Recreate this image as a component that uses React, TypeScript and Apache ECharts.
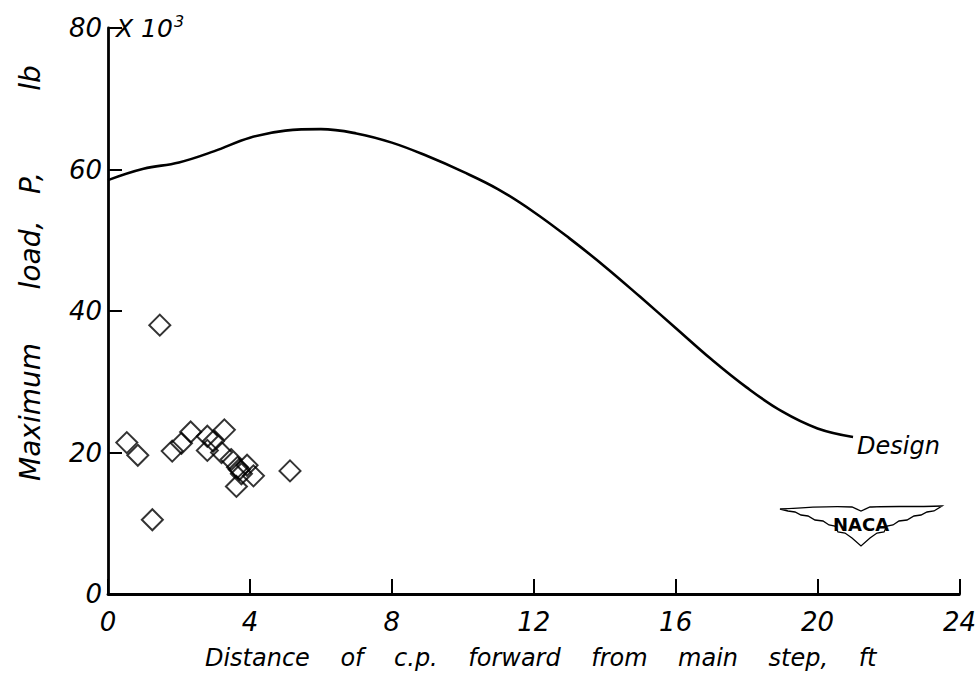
import React, { useEffect, useRef } from "react";
import * as echarts from "echarts";

const xTicks = [0, 4, 8, 12, 16, 20, 24];
const yTicks = [0, 20, 40, 60, 80];

const designX = [0, 1, 2, 3, 4, 5, 6, 7, 8, 9, 10, 11, 12, 13, 14, 15, 16, 17, 18, 19, 20, 21];
const designY = [58.5, 60.1, 61.0, 62.6, 64.5, 65.5, 65.7, 65.1, 63.8, 61.9, 59.7, 57.2, 54.0, 50.3, 46.3, 42.0, 37.6, 33.2, 29.2, 25.8, 23.4, 22.2];

const testX = [0.53, 0.84, 1.25, 1.46, 1.81, 2.07, 2.33, 2.8, 2.97, 2.8, 3.28, 3.2, 3.47, 3.65, 3.92, 3.76, 4.1, 3.62, 3.7, 5.13];
const testY = [21.4, 19.6, 10.5, 38.0, 20.2, 21.3, 22.9, 22.3, 21.6, 20.3, 23.2, 20.0, 19.0, 17.9, 18.2, 17.0, 16.7, 15.2, 17.6, 17.4];

const yTitleWords = ["Maximum", "load,", "P,", "lb"];
const xTitleWords = ["Distance", "of", "c.p.", "forward", "from", "main", "step,", "ft"];

const FONT = "DejaVu Sans";
const WING =
  "M0,3 C30,1 60,0 72,1 L81,5 L90,1 C102,0 132,1 162,0 L154,5 L147,6 L141,9 L134,10 L127,14 L119,15 L113,19 L107,20 L104,26 L97,27 L90,32 L81,40 L72,32 L65,27 L58,26 L55,20 L49,19 L43,15 L35,14 L28,10 L21,9 L15,6 L8,5 Z";

echarts.graphic.registerShape("nacaWing", echarts.graphic.extendPath(WING, {}));

export default function App() {
  const ref = useRef<HTMLDivElement>(null);
  useEffect(() => {
    if (!ref.current) return;
    const chart = echarts.init(ref.current, null, { renderer: "svg" });
    const yCenters = [412, 255, 183, 78];
    chart.setOption({
      animation: false,
      backgroundColor: "#fff",
      grid: { left: 108, right: 17, top: 28, bottom: 83, containLabel: false },
      xAxis: {
        type: "value",
        min: xTicks[0],
        max: xTicks[xTicks.length - 1],
        interval: 4,
        name: xTitleWords.join("\u00a0\u00a0\u00a0\u00a0"),
        nameLocation: "middle",
        nameGap: 52,
        nameTextStyle: { fontFamily: FONT, fontStyle: "italic", fontSize: 24, color: "#000", padding: [0, 0, 0, 14] },
        axisLine: { show: true, lineStyle: { color: "#000", width: 2.8 } },
        axisTick: { show: true, inside: true, length: 15, lineStyle: { color: "#000", width: 2 } },
        axisLabel: { fontFamily: FONT, fontStyle: "italic", fontSize: 26, color: "#000", margin: 15 },
        splitLine: { show: false },
      },
      yAxis: {
        type: "value",
        min: yTicks[0],
        max: yTicks[yTicks.length - 1],
        interval: 20,
        axisLine: { show: true, lineStyle: { color: "#000", width: 2.8 } },
        axisTick: { show: true, inside: true, length: 14, lineStyle: { color: "#000", width: 2 } },
        axisLabel: { fontFamily: FONT, fontStyle: "italic", fontSize: 26, color: "#000", margin: 6 },
        splitLine: { show: false },
      },
      graphic: [
        {
          type: "text",
          x: 116,
          y: 28,
          style: {
            text: "{a|X 10}{b|3}",
            verticalAlign: "middle",
            rich: {
              a: { fontFamily: FONT, fontStyle: "italic", fontSize: 25, fill: "#000" },
              b: { fontFamily: FONT, fontStyle: "italic", fontSize: 16, fill: "#000", verticalAlign: "top", padding: [0, 0, 14, 1] },
            },
          },
        },
        ...yTitleWords.map((w, i) => ({
          type: "text",
          x: 30,
          y: yCenters[i],
          rotation: Math.PI / 2,
          style: {
            text: w,
            fontFamily: FONT,
            fontStyle: "italic",
            fontSize: 28,
            fill: "#000",
            align: "center",
            verticalAlign: "middle",
          },
        })),
        {
          type: "nacaWing",
          x: 780,
          y: 506,
          style: { fill: "#fff", stroke: "#000", lineWidth: 1.3 },
        },
        {
          type: "text",
          x: 861,
          y: 524,
          style: {
            text: "NACA",
            fontFamily: FONT,
            fontWeight: "bold",
            fontSize: 18,
            fill: "#000",
            align: "center",
            verticalAlign: "middle",
          },
        },
      ],
      series: [
        {
          type: "line",
          name: "Design",
          data: designX.map((x, i) => [x, designY[i]]),
          smooth: 0.4,
          symbol: "none",
          lineStyle: { color: "#000", width: 2.6 },
          endLabel: {
            show: true,
            formatter: "Design",
            fontFamily: FONT,
            fontStyle: "italic",
            fontSize: 24,
            color: "#000",
            distance: 4,
            offset: [0, 9],
          },
        },
        {
          type: "scatter",
          name: "Tests",
          data: testX.map((x, i) => [x, testY[i]]),
          symbol: "diamond",
          symbolSize: 21,
          itemStyle: { color: "rgba(0,0,0,0)", borderColor: "#000", borderWidth: 2 },
        },
      ],
    });
    return () => chart.dispose();
  }, []);
  return <div ref={ref} style={{ position: "fixed", left: 0, top: 0, width: 979, height: 677 }} />;
}
